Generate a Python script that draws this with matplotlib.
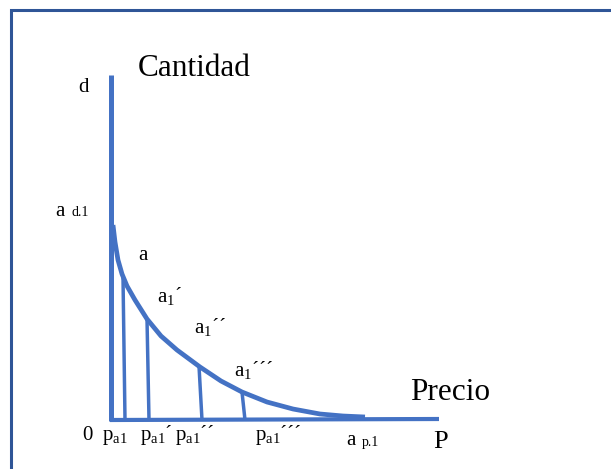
import matplotlib
matplotlib.use("Agg")
import matplotlib.pyplot as plt
from matplotlib.patches import Rectangle

plt.rcParams['font.family'] = ['Liberation Serif', 'DejaVu Serif']
plt.rcParams['mathtext.fontset'] = 'custom'
plt.rcParams['mathtext.rm'] = 'Liberation Serif'
plt.rcParams['mathtext.it'] = 'Liberation Serif'

BLUE = '#4472C4'
FRAME = '#2F5597'

# demand curve (x = price, y = quantity), arbitrary diagram units
curve_x = [2, 4, 7, 11, 16, 24, 36, 50, 66, 89, 110, 131, 156, 182, 209, 232, 254]
curve_y = [195, 178, 160, 146, 134, 120, 101, 84, 70, 53, 39, 28, 18, 11, 6, 4, 3]

# drop lines from the curve to the price axis
drop_top_x = [12, 36, 88, 131]
drop_top_y = [143, 101, 54, 28]
drop_bot_x = [14, 38, 91, 134]

# axes extents
axis_y_top = 345
axis_x_end = 328

fig = plt.figure(figsize=(6.11, 4.69), dpi=100)
ax = fig.add_axes([0, 0, 1, 1])
ax.set_xlim(-111, 500)
ax.set_ylim(-49, 420)
ax.axis('off')

# frame
fig.patches.append(Rectangle((11 / 611, -0.1), 1.2, 1 - 10 / 469 + 0.1,
                             transform=fig.transFigure, fill=False,
                             edgecolor=FRAME, linewidth=2.2, clip_on=False))

# axes lines
ax.plot([0, 0], [-1, axis_y_top], color=BLUE, lw=3.6, solid_capstyle='butt')
ax.plot([-1, axis_x_end], [0, 1], color=BLUE, lw=3.0, solid_capstyle='butt')

# curve
ax.plot(curve_x, curve_y, color=BLUE, lw=3.4, solid_capstyle='butt',
        solid_joinstyle='round')

# drop lines
for tx, ty, bx in zip(drop_top_x, drop_top_y, drop_bot_x):
    ax.plot([tx, bx], [ty, 0], color=BLUE, lw=2.5, solid_capstyle='butt')

# labels: (text, x, y, size)
labels = [
    ("Cantidad", 27, 344, 22.5),
    ("d", -33, 328, 15),
    ("a", -56, 204, 15),
    ("d.1", -39, 204, 10),
    ("a", 27, 160, 15),
    (r"$\mathrm{a}_{\mathrm{1}}$´", 46, 118, 15),
    (r"$\mathrm{a}_{\mathrm{1}}$´´", 83, 87, 15),
    (r"$\mathrm{a}_{\mathrm{1}}$´´´", 123, 44, 15),
    ("Precio", 299, 20, 22.5),
    ("0", -29, -20, 15),
    (r"$\mathrm{p}_{\mathrm{a1}}$", -9, -20, 15),
    (r"$\mathrm{p}_{\mathrm{a1}}$´", 29, -20, 15),
    (r"$\mathrm{p}_{\mathrm{a1}}$´´", 64, -20, 15),
    (r"$\mathrm{p}_{\mathrm{a1}}$´´´", 144, -20, 15),
    ("a", 235, -25, 15),
    ("p.1", 251, -26, 10),
    ("P", 322, -28, 19),
]
for s, x, y, size in labels:
    ax.text(x, y, s, fontsize=size, ha='left', va='baseline', color='black')

fig.savefig('out.png', dpi=100)
